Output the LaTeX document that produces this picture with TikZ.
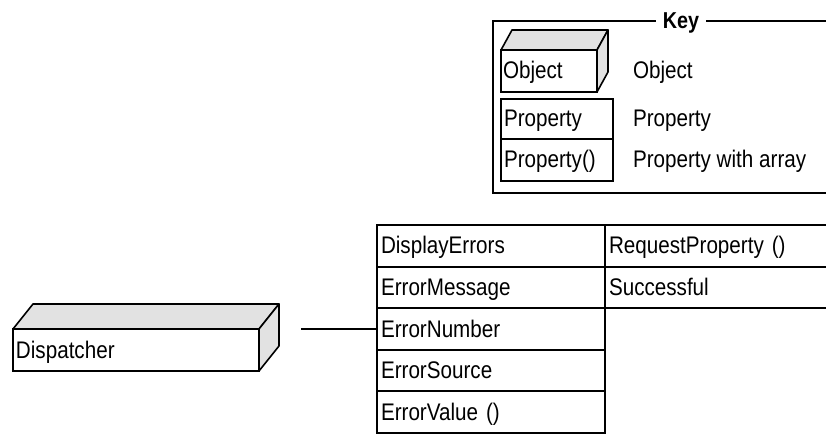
\documentclass[tikz,border=0pt]{standalone}
\usepackage{fontspec}
\setmainfont{Liberation Sans}[FakeStretch=0.86]
\definecolor{facegray}{RGB}{226,226,226}
\begin{document}
\begin{tikzpicture}[x=1pt,y=-1pt,
  every node/.style={outer sep=0pt},
  txt/.style={font=\fontsize{24}{28}\selectfont, text height=16pt, text depth=0pt},
  cell/.style={txt, draw, line width=2pt, anchor=north west, minimum height=41.6pt,
    text width=#1, align=left, inner xsep=4pt, inner ysep=0pt},
  keycell/.style={txt, draw, line width=2pt, anchor=north west, minimum height=#1,
    text width=106pt, align=left, inner xsep=3pt, inner ysep=0pt},
  objface/.style={txt, draw, fill=white, line width=1.6pt, anchor=north west,
    inner xsep=3pt, inner ysep=0pt, align=left},
  face/.style={fill=facegray, draw, line width=1.6pt, line join=round},
  frame/.style={line width=2pt},
  link/.style={line width=2pt},
  legend/.style={txt, anchor=west, inner sep=0pt}
]
\useasboundingbox (0,0) rectangle (826,435);

% ---- key ----
\node (keytitle) [txt, font=\fontsize{23}{26}\selectfont\bfseries, text height=15pt,
  inner xsep=7pt, inner ysep=0pt] at (681,21) {Key};
\draw[frame] (keytitle.west) -- (493,21) -- (493,193) -- (830,193);
\draw[frame] (keytitle.east) -- (830,21);

\node (keyobj) [objface, text width=92pt, minimum height=42pt, inner xsep=2pt] at (501,50) {Object};
\filldraw[face] (keyobj.north west) -- ++(11,-20) -- ([shift={(11,-20)}]keyobj.north east)
  -- (keyobj.north east) -- cycle;
\filldraw[face] (keyobj.north east) -- ++(11,-20) -- ([shift={(11,-20)}]keyobj.south east)
  -- (keyobj.south east) -- cycle;

\node (keyprop) [keycell=40pt] at (501,99) {Property};
\node (keyarr) [keycell=42pt] at (keyprop.south west) {Property()};

\node (lblobj) [legend] at (633,71) {Object};
\node (lblprop) [legend] at (633,119) {Property};
\node (lblarr) [legend] at (633,160) {Property with array};

% ---- dispatcher object ----
\node (disp) [objface, text width=240pt, minimum height=42pt] at (13,329) {Dispatcher};
\filldraw[face] (disp.north west) -- ++(20,-25) -- ([shift={(20,-25)}]disp.north east)
  -- (disp.north east) -- cycle;
\filldraw[face] (disp.north east) -- ++(20,-25) -- ([shift={(20,-25)}]disp.south east)
  -- (disp.south east) -- cycle;

% ---- property table ----
\node (p1) [cell=220pt] at (377,225) {DisplayErrors};
\node (p2) [cell=220pt] at (p1.south west) {ErrorMessage};
\node (p3) [cell=220pt] at (p2.south west) {ErrorNumber};
\node (p4) [cell=220pt] at (p3.south west) {ErrorSource};
\node (p5) [cell=220pt] at (p4.south west) {ErrorValue ()};

\node (m1) [cell=217pt] at (p1.north east) {RequestProperty ()};
\node (m2) [cell=217pt] at (m1.south west) {Successful};

% ---- connector ----
\coordinate (tap) at (301,329);
\draw[link] (tap |- p3.west) -- (p3.west);
\end{tikzpicture}
\end{document}
